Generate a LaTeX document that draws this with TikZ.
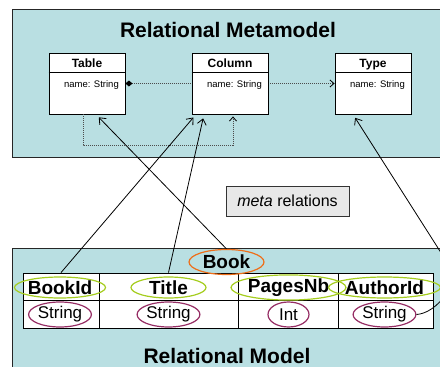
\documentclass[tikz,border=0pt]{standalone}
\usepackage{fontspec}
\setmainfont{Liberation Sans}
\usetikzlibrary{shapes.geometric, arrows.meta, calc}
\definecolor{RelTeal}{RGB}{185,223,226}
\definecolor{RelGreen}{RGB}{165,205,30}
\definecolor{RelPurple}{RGB}{150,45,100}
\definecolor{RelOrange}{RGB}{238,110,25}
\definecolor{RelGray}{RGB}{232,232,232}

\tikzset{
  panel/.style={draw=black!85, fill=RelTeal, line width=0.8pt},
  classbox/.style={draw, fill=white, minimum width=76pt, minimum height=61pt,
                   inner sep=0pt, line width=0.9pt},
  classname/.style={font=\fontsize{12}{14}\selectfont\bfseries, anchor=base},
  attr/.style={font=\fontsize{9.5}{11}\selectfont, anchor=base west},
  link/.style={dash pattern=on 1pt off 1pt, black!70, line width=0.8pt},
  metaarrow/.style={-{Straight Barb[length=5.5pt,width=9pt]}, line width=0.8pt},
  cell/.style={draw, fill=white, minimum height=27.5pt, inner sep=0pt, line width=0.8pt},
  colname/.style={ellipse, draw=RelGreen, line width=1.2pt, inner sep=0pt,
                  minimum height=21pt, font=\fontsize{19}{22}\selectfont\bfseries},
  coltype/.style={ellipse, draw=RelPurple, line width=1.2pt, inner sep=0pt,
                  minimum height=25pt, font=\fontsize{17}{20}\selectfont},
}

\begin{document}
\begin{tikzpicture}[x=1pt, y=-1pt]
  \useasboundingbox (0,0) rectangle (440,367);

  % metamodel panel
  \draw[panel] (12,9) rectangle (460,157);
  \node[font=\fontsize{21}{24}\selectfont\bfseries, anchor=base] (metatitle) at (228,37)
        {Relational Metamodel};

  \foreach \id/\x/\label in {tbl/87/Table, col/230/Column, typ/373/Type} {
    \node[classbox] (\id) at (\x,83.5) {};
    \draw[line width=0.9pt] ($(\id.north west)+(0,20)$) -- ($(\id.north east)+(0,20)$);
    \node[classname] at ([yshift=-14.5pt]\id.north) {\label};
    \node[attr] at ([xshift=12pt,yshift=-34.5pt]\id.north west) {name: String};
  }

  \draw[link, {Diamond[length=7pt,width=6pt,black]}-] (tbl.east) -- (col.west);
  \draw[link, -{Straight Barb[length=4pt,width=7pt,black]}, shorten <=2pt]
        (col.east) -- (typ.west);
  \draw[link, -{Straight Barb[length=4pt,width=7pt,black]}, shorten >=2pt]
        ([xshift=-4pt]tbl.south) -- ++(0,31) -| ([xshift=3pt]col.south);

  % meta relations label
  \node[draw=black!80, fill=RelGray, line width=0.8pt, minimum width=123pt,
        minimum height=30pt, inner sep=0pt, font=\fontsize{16}{19}\selectfont]
        (metarel) at (287.5,201) {\textit{meta} relations};

  % model panel
  \draw[panel] (12,248) rectangle (460,380);
  \node[font=\fontsize{21}{24}\selectfont\bfseries, anchor=base] (modeltitle) at (227,363)
        {Relational Model};

  \foreach \i/\x/\w/\name/\typ/\nw/\tw in {
    1/61/76/BookId/String/88/62,
    2/168.5/139/Title/String/75/62,
    3/288/100/PagesNb/Int/97/41,
    4/385.5/95/AuthorId/String/95/61} {
    \node[cell, minimum width=\w pt] (h\i) at (\x,286.75) {};
    \node[cell, minimum width=\w pt] (t\i) at (\x,314.25) {};
  }
  \foreach \i/\x/\w/\name/\typ/\nw/\tw in {
    1/60/76/BookId/String/88/62,
    2/168.5/139/Title/String/75/62,
    3/288.5/100/PagesNb/Int/97/41,
    4/384.5/95/AuthorId/String/95/61} {
    \node[colname, minimum width=\nw pt] (n\i) at (\x,287.5) {\name};
    \node[coltype, minimum width=\tw pt] (y\i) at (\x,314.5) {\typ};
  }

  \node[ellipse, draw=RelOrange, line width=1.2pt, inner sep=0pt, minimum width=75pt,
        minimum height=25pt, font=\fontsize{19}{22}\selectfont\bfseries]
        (book) at (226.5,262) {Book};

  % meta relations
  \coordinate (bend) at (452,270);
  \draw[metaarrow, shorten >=4pt] (book.north) -- ([xshift=9pt]tbl.south);
  \draw[metaarrow, shorten >=4pt] (h1.north) -- ([xshift=-34pt]col.south);
  \draw[metaarrow, shorten >=4pt] (h2.north) -- ([xshift=-26pt]col.south);
  \draw[metaarrow, shorten >=4pt] (y4.east) .. controls (438,313) and (458,282) .. (bend)
        -- ([xshift=-20pt]typ.south);
\end{tikzpicture}
\end{document}
